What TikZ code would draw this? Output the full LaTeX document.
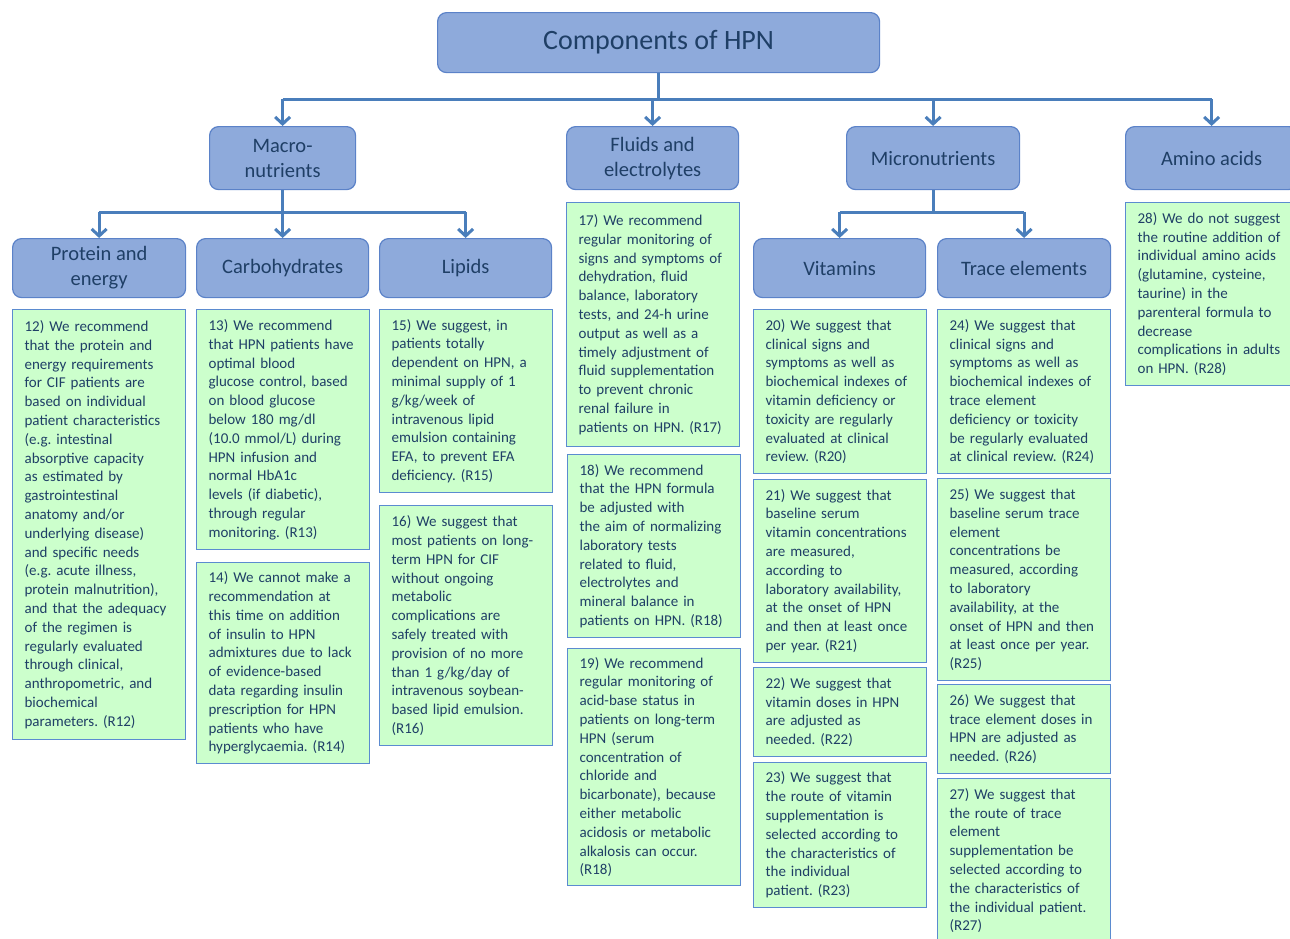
\documentclass[tikz,border=0pt]{standalone}
\usepackage{fontspec}
\setmainfont{Carlito}
\usetikzlibrary{arrows.meta}
\definecolor{hfill}{HTML}{8EAADB}
\definecolor{hborder}{HTML}{5B82C8}
\definecolor{gfill}{HTML}{CCFFCC}
\definecolor{gborder}{HTML}{5B8BD0}
\definecolor{txt}{HTML}{1F3F66}
\definecolor{cblue}{HTML}{4A7EBB}
\tikzset{
  hdr/.style={draw=hborder, fill=hfill, rounded corners=9pt, line width=1.2pt, text=txt,
    align=center, anchor=north west, inner sep=2pt, font=\fontsize{20.5}{25}\selectfont},
  gbox/.style={draw=gborder, fill=gfill, line width=1.2pt, anchor=north west, align=left,
    inner xsep=12pt, inner ysep=4pt, text width=149pt, minimum width=173pt, text=txt,
    font=\fontsize{15}{18.8}\selectfont},
  conn/.style={draw=cblue, line width=3pt},
  arr/.style={conn, -{Straight Barb[length=7pt,width=15pt]}}
}
\begin{document}
\frenchspacing
\begin{tikzpicture}[x=1pt,y=-1pt]
\useasboundingbox (0,0) rectangle (1290,938);
\clip (0,0) rectangle (1290,938);
% headers
\node[hdr, minimum width=442pt, minimum height=60pt, font=\fontsize{28}{32}\selectfont] (top) at (437,12) {Components of HPN};
\node[hdr, minimum width=146pt, minimum height=63pt] (macro) at (209,126) {Macro-\\nutrients};
\node[hdr, minimum width=172pt, minimum height=63pt] (fluid) at (566,126) {Fluids and\\electrolytes};
\node[hdr, minimum width=173pt, minimum height=63pt] (micro) at (846,126) {Micronutrients};
\node[hdr, minimum width=172pt, minimum height=63pt] (amino) at (1125,126) {Amino acids};
\node[hdr, minimum width=173pt, minimum height=59pt] (prot) at (12,238) {Protein and\\energy};
\node[hdr, minimum width=172pt, minimum height=59pt] (carb) at (196,238) {Carbohydrates};
\node[hdr, minimum width=172pt, minimum height=59pt] (lip) at (379,238) {Lipids};
\node[hdr, minimum width=172pt, minimum height=59pt] (vit) at (753,238) {Vitamins};
\node[hdr, minimum width=173pt, minimum height=59pt] (trace) at (937,238) {Trace elements};
% connectors
\coordinate (b1) at (0,99);
\coordinate (b2) at (0,212);
\draw[conn] (top.south) -- (top.south |- b1);
\draw[conn] (macro.north |- b1) -- (amino.north |- b1);
\foreach \n in {macro,fluid,micro,amino} \draw[arr] (\n.north |- b1) -- (\n.north);
\draw[conn] (macro.south) -- (macro.south |- b2);
\draw[conn] (prot.north |- b2) -- (lip.north |- b2);
\foreach \n in {prot,carb,lip} \draw[arr] (\n.north |- b2) -- (\n.north);
\draw[conn] (micro.south) -- (micro.south |- b2);
\draw[conn] (vit.north |- b2) -- (trace.north |- b2);
\foreach \n in {vit,trace} \draw[arr] (\n.north |- b2) -- (\n.north);
% recommendation boxes
\node[gbox, minimum height=430pt] (r12) at (12,309) {12) We recommend\\that the protein and\\energy requirements\\for CIF patients are\\based on individual\\patient characteristics\\(e.g. intestinal\\absorptive capacity\\as estimated by\\gastrointestinal\\anatomy and/or\\underlying disease)\\and specific needs\\(e.g. acute illness,\\protein malnutrition),\\and that the adequacy\\of the regimen is\\regularly evaluated\\through clinical,\\anthropometric, and\\biochemical\\parameters. (R12)};
\node[gbox, minimum height=240pt] (r13) at (196,309) {13) We recommend\\that HPN patients have\\optimal blood\\glucose control, based\\on blood glucose\\below 180 mg/dl\\(10.0 mmol/L) during\\HPN infusion and\\normal HbA1c\\levels (if diabetic),\\through regular\\monitoring. (R13)};
\node[gbox, minimum height=201pt] (r14) at (196,562) {14) We cannot make a\\recommendation at\\this time on addition\\of insulin to HPN\\admixtures due to lack\\of evidence-based\\data regarding insulin\\prescription for HPN\\patients who have\\hyperglycaemia. (R14)};
\node[gbox, minimum height=183pt] (r15) at (379,309) {15) We suggest, in\\patients totally\\dependent on HPN, a\\minimal supply of 1\\g/kg/week of\\intravenous lipid\\emulsion containing\\EFA, to prevent EFA\\deficiency. (R15)};
\node[gbox, minimum height=240pt] (r16) at (379,505) {16) We suggest that\\most patients on long-\\term HPN for CIF\\without ongoing\\metabolic\\complications are\\safely treated with\\provision of no more\\than 1 g/kg/day of\\intravenous soybean-\\based lipid emulsion.\\(R16)};
\node[gbox, minimum height=244pt] (r17) at (566,202) {17) We recommend\\regular monitoring of\\signs and symptoms of\\dehydration, fluid\\balance, laboratory\\tests, and 24-h urine\\output as well as a\\timely adjustment of\\fluid supplementation\\to prevent chronic\\renal failure in\\patients on HPN. (R17)};
\node[gbox, minimum height=183pt] (r18) at (567,454) {18) We recommend\\that the HPN formula\\be adjusted with\\the aim of normalizing\\laboratory tests\\related to fluid,\\electrolytes and\\mineral balance in\\patients on HPN. (R18)};
\node[gbox, minimum height=237pt] (r19) at (567,648) {19) We recommend\\regular monitoring of\\acid-base status in\\patients on long-term\\HPN (serum\\concentration of\\chloride and\\bicarbonate), because\\either metabolic\\acidosis or metabolic\\alkalosis can occur.\\(R18)};
\node[gbox, minimum height=164pt] (r20) at (753,309) {20) We suggest that\\clinical signs and\\symptoms as well as\\biochemical indexes of\\vitamin deficiency or\\toxicity are regularly\\evaluated at clinical\\review. (R20)};
\node[gbox, minimum height=183pt] (r21) at (753,479) {21) We suggest that\\baseline serum\\vitamin concentrations\\are measured,\\according to\\laboratory availability,\\at the onset of HPN\\and then at least once\\per year. (R21)};
\node[gbox, minimum height=89pt] (r22) at (753,667) {22) We suggest that\\vitamin doses in HPN\\are adjusted as\\needed. (R22)};
\node[gbox, minimum height=145pt] (r23) at (753,762) {23) We suggest that\\the route of vitamin\\supplementation is\\selected according to\\the characteristics of\\the individual\\patient. (R23)};
\node[gbox, minimum height=164pt] (r24) at (937,309) {24) We suggest that\\clinical signs and\\symptoms as well as\\biochemical indexes of\\trace element\\deficiency or toxicity\\be regularly evaluated\\at clinical review. (R24)};
\node[gbox, minimum height=202pt] (r25) at (937,478) {25) We suggest that\\baseline serum trace\\element\\concentrations be\\measured, according\\to laboratory\\availability, at the\\onset of HPN and then\\at least once per year.\\(R25)};
\node[gbox, minimum height=89pt] (r26) at (937,684) {26) We suggest that\\trace element doses in\\HPN are adjusted as\\needed. (R26)};
\node[gbox, minimum height=164pt] (r27) at (937,778) {27) We suggest that\\the route of trace\\element\\supplementation be\\selected according to\\the characteristics of\\the individual patient.\\(R27)};
\node[gbox, minimum height=183pt] (r28) at (1125,202) {28) We do not suggest\\the routine addition of\\individual amino acids\\(glutamine, cysteine,\\taurine) in the\\parenteral formula to\\decrease\\complications in adults\\on HPN. (R28)};
\end{tikzpicture}
\end{document}
